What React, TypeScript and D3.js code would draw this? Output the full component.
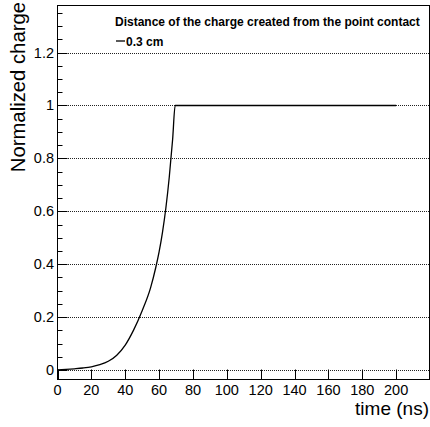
import React from "react";
import * as d3 from "d3";

const timeNs = [0, 5, 10, 15, 20, 25, 30, 35, 40, 45, 50, 55, 58, 60, 62, 64, 66, 68, 69.5, 200];
const charge = [0, 0.002, 0.0045, 0.0075, 0.012, 0.02, 0.033, 0.056, 0.094, 0.1515, 0.224, 0.3115, 0.3865, 0.4465, 0.5205, 0.6125, 0.7285, 0.8725, 1.0, 1.0];
const xTicks = [0, 20, 40, 60, 80, 100, 120, 140, 160, 180, 200];
const yMajor = [0, 0.2, 0.4, 0.6, 0.8, 1, 1.2];
const yLabels = ["0", "0.2", "0.4", "0.6", "0.8", "1", "1.2"];
const legendTitle = "Distance of the charge created from the point contact";
const seriesName = "0.3 cm";

const W = 430;
const H = 427;
const L = 57.5, R = 429.5, T = 5.5, B = 379.5;
const font = "'Liberation Sans', Arial, Helvetica, sans-serif";

export default function App() {
  const x = d3.scaleLinear().domain([0, 219.7]).range([L, R]);
  const y = d3.scaleLinear().domain([-0.036, 1.378]).range([B, T]);
  const yMinor = d3.range(0, 1.3751, 0.05).map((v) => Math.round(v * 100) / 100);
  const pts: [number, number][] = timeNs.map((t, i) => [t, charge[i]]);
  const line = d3
    .line<[number, number]>()
    .x((d) => x(d[0]))
    .y((d) => y(d[1]))
    .curve(d3.curveMonotoneX);

  return (
    <svg
      width={W}
      height={H}
      style={{ position: "absolute", left: 0, top: 0, background: "#fff" }}
      fontFamily={font}
    >
      <rect x={0} y={0} width={W} height={H} fill="#fff" />
      {yMajor.map((v) => (
        <line
          key={"g" + v}
          x1={L}
          x2={R}
          y1={Math.round(y(v)) + 0.5}
          y2={Math.round(y(v)) + 0.5}
          stroke="#222"
          strokeWidth={1}
          strokeDasharray="1,1"
          shapeRendering="crispEdges"
        />
      ))}
      {yMinor.map((v) => {
        const major = Math.abs(Math.round(v * 5) - v * 5) < 1e-6;
        const yy = Math.round(y(v)) + 0.5;
        return (
          <line key={"yt" + v} x1={L} x2={L + (major ? 10 : 5)} y1={yy} y2={yy} stroke="#000" strokeWidth={1} />
        );
      })}
      {xTicks.map((t) => {
        const xx = Math.round(x(t)) + 0.5;
        return <line key={"xt" + t} x1={xx} x2={xx} y1={B} y2={B - 10} stroke="#000" strokeWidth={1} />;
      })}
      <path d={line(pts) || ""} fill="none" stroke="#000" strokeWidth={1.3} />
      <rect x={L} y={T} width={R - L} height={B - T} fill="none" stroke="#000" strokeWidth={1} />
      {yMajor.map((v, i) => (
        <text key={"yl" + v} x={54} y={y(v) + 5} textAnchor="end" fontSize={14.5} fill="#000">
          {yLabels[i]}
        </text>
      ))}
      {xTicks.map((t) => (
        <text key={"xl" + t} x={x(t)} y={395} textAnchor="middle" fontSize={14.5} fill="#000">
          {t}
        </text>
      ))}
      <text x={429} y={415} textAnchor="end" fontSize={19} fill="#000">
        time (ns)
      </text>
      <text transform="translate(25,2) rotate(-90)" textAnchor="end" fontSize={20.3} fill="#000">
        Normalized charge
      </text>
      <text x={115} y={25.5} fontSize={12} fontWeight="bold" fill="#000">
        {legendTitle}
      </text>
      <line x1={116} x2={125} y1={41} y2={41} stroke="#000" strokeWidth={1.3} />
      <text x={126} y={46} fontSize={12} fontWeight="bold" fill="#000">
        {seriesName}
      </text>
    </svg>
  );
}
